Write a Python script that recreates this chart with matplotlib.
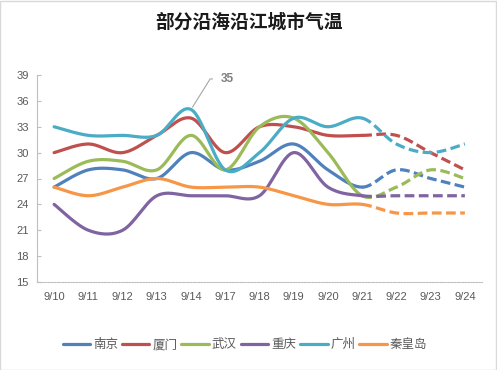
import numpy as np
import matplotlib
matplotlib.use("Agg")
import matplotlib.pyplot as plt
from matplotlib.patches import Rectangle

plt.rcParams['font.family'] = ['Liberation Sans', 'Noto Sans CJK SC', 'DejaVu Sans']
plt.rcParams['lines.scale_dashes'] = False

dates = ["9/10", "9/11", "9/12", "9/13", "9/14", "9/17", "9/18", "9/19", "9/20",
         "9/21", "9/22", "9/23", "9/24"]
cities = ["南京", "厦门", "武汉", "重庆", "广州", "秦皇岛"]
nanjing   = [26, 28, 28, 27, 30, 28, 29, 31, 28, 26, 28, 27, 26]
xiamen    = [30, 31, 30, 32, 34, 30, 33, 33, 32, 32, 32, 30, 28]
wuhan     = [27, 29, 29, 28, 32, 28, 33, 34, 30, 25, 26, 28, 27]
chongqing = [24, 21, 21, 25, 25, 25, 25, 30, 26, 25, 25, 25, 25]
guangzhou = [33, 32, 32, 32, 35, 28, 30, 34, 33, 34, 31, 30, 31]
qinhuang  = [26, 25, 26, 27, 26, 26, 26, 25, 24, 24, 23, 23, 23]
series = [nanjing, xiamen, wuhan, chongqing, guangzhou, qinhuang]
colors = ["#4F81BD", "#C0504D", "#9BBB59", "#8064A2", "#4BACC6", "#F79646"]
forecast_start = 9  # index of 9/21; later points are forecasts (dashed)
yticks = [15, 18, 21, 24, 27, 30, 33, 36, 39]


def smooth(xs, ys, n=30):
    """Excel-style smoothed line: cubic Bezier with Catmull-Rom control points."""
    xs = np.asarray(xs, float)
    ys = np.asarray(ys, float)
    segs = []
    m = len(xs)
    for i in range(m - 1):
        p0 = np.array([xs[i], ys[i]])
        p3 = np.array([xs[i + 1], ys[i + 1]])
        pm = np.array([xs[max(i - 1, 0)], ys[max(i - 1, 0)]])
        pp = np.array([xs[min(i + 2, m - 1)], ys[min(i + 2, m - 1)]])
        p1 = p0 + (p3 - pm) / 6.0
        p2 = p3 - (pp - p0) / 6.0
        t = np.linspace(0, 1, n)[:, None]
        pts = ((1 - t) ** 3) * p0 + 3 * ((1 - t) ** 2) * t * p1 + 3 * (1 - t) * t ** 2 * p2 + t ** 3 * p3
        segs.append(pts)
    return segs


fig = plt.figure(figsize=(4.97, 3.70), dpi=100)
fig.patches.append(Rectangle((0.001, 0.001), 0.997, 0.996, transform=fig.transFigure,
                             fill=False, edgecolor="#D9D9D9", linewidth=1.0))
ax = fig.add_axes([37 / 497, 88 / 370, 445 / 497, 207 / 370])

x = np.arange(len(dates))
for vals, col, name in zip(series, colors, cities):
    segs = smooth(x, vals)
    solid = np.vstack(segs[:forecast_start])
    dashed = np.vstack(segs[forecast_start:])
    ax.plot(solid[:, 0], solid[:, 1], color=col, lw=2.3, solid_capstyle='round', label=name)
    ln, = ax.plot(dashed[:, 0], dashed[:, 1], color=col, lw=2.3, dash_capstyle='butt')
    ln.set_dashes([7.0, 3.2])

# annotation of the Guangzhou peak
peak_i = int(np.argmax(guangzhou))
ax.annotate(str(guangzhou[peak_i]), xy=(x[peak_i], guangzhou[peak_i]),
            xytext=(21.5, 22), textcoords='offset points', ha='left', va='center',
            fontsize=8.5, fontweight='bold', color='#7F7F7F',
            arrowprops=dict(arrowstyle='-', color='#A6A6A6', lw=0.8,
                            connectionstyle='angle,angleA=0,angleB=58,rad=0',
                            shrinkA=4, shrinkB=2, relpos=(0, 0.5)))

ax.set_xlim(-0.5, len(dates) - 0.5)
ax.set_ylim(15, 39)
ax.set_yticks(yticks)
ax.set_xticks(x)
ax.set_xticklabels(dates)
for s in ['top', 'right']:
    ax.spines[s].set_visible(False)
ax.spines['left'].set_color('#BFBFBF')
ax.spines['left'].set_linewidth(0.8)
ax.spines['bottom'].set_color('#BFBFBF')
ax.spines['bottom'].set_linewidth(0.8)
ax.spines['bottom'].set_linestyle((0, (1, 1)))
ax.tick_params(axis='y', direction='in', length=3, width=0.8, color='#BFBFBF',
               labelsize=8, labelcolor='#595959', pad=6)
ax.tick_params(axis='x', length=0, labelsize=8, labelcolor='#595959', pad=7)

fig.text(0.501, 0.94, "部分沿海沿江城市气温", ha='center', va='center', fontsize=13.5,
         fontweight='bold', family=['Noto Sans CJK SC', 'DejaVu Sans'], color='#1A1A1A')

leg = fig.legend(loc='center', bbox_to_anchor=(0.493, 0.068), ncol=6, frameon=False,
                 prop={'family': ['Noto Sans CJK SC', 'DejaVu Sans'], 'size': 9},
                 handlelength=2.2, handletextpad=0.25, columnspacing=0.3, borderaxespad=0)
for t in leg.get_texts():
    t.set_color('#595959')

fig.savefig("out.png", dpi=100)
